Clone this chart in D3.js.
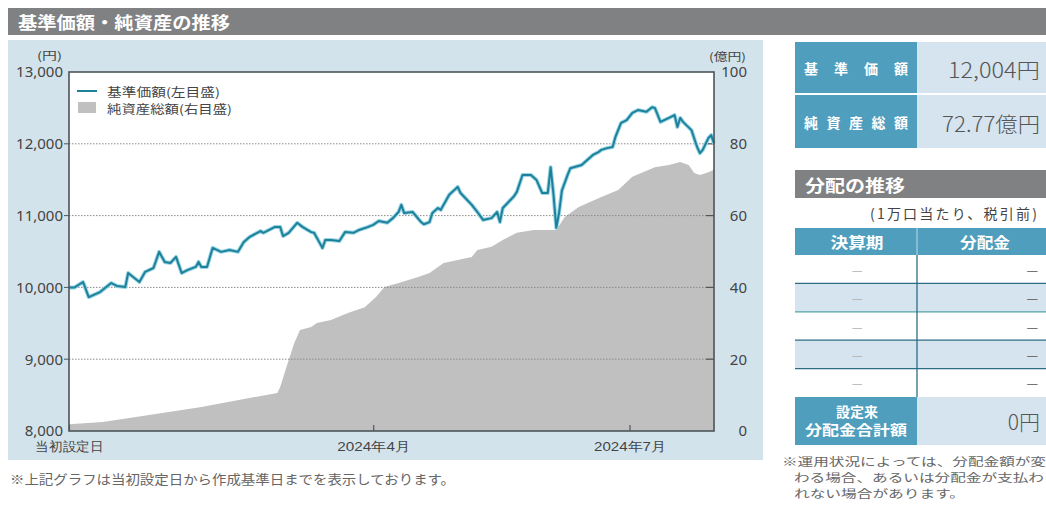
<!DOCTYPE html>
<html><head><meta charset="utf-8">
<script src="https://cdn.jsdelivr.net/npm/d3@7"></script>
<style>
body{margin:0;background:#fff;overflow:hidden}
svg{display:block;font-family:"Noto Sans CJK JP","Noto Sans",sans-serif}
</style></head><body>
<svg id="c" width="1046" height="508"></svg>
<script>
// ---- data ----
const navDates = ["2023-12-15","2023-12-17","2023-12-20","2023-12-22","2023-12-26","2023-12-30","2024-01-01","2024-01-04","2024-01-05","2024-01-09","2024-01-11","2024-01-14","2024-01-16","2024-01-18","2024-01-20","2024-01-22","2024-01-24","2024-01-26","2024-01-29","2024-01-30","2024-01-31","2024-02-02","2024-02-04","2024-02-07","2024-02-10","2024-02-13","2024-02-15","2024-02-17","2024-02-21","2024-02-22","2024-02-26","2024-02-28","2024-02-29","2024-03-02","2024-03-05","2024-03-07","2024-03-10","2024-03-11","2024-03-13","2024-03-14","2024-03-15","2024-03-17","2024-03-20","2024-03-22","2024-03-25","2024-03-27","2024-03-30","2024-04-01","2024-04-03","2024-04-06","2024-04-08","2024-04-10","2024-04-11","2024-04-12","2024-04-15","2024-04-18","2024-04-19","2024-04-21","2024-04-22","2024-04-24","2024-04-25","2024-04-28","2024-05-01","2024-05-02","2024-05-06","2024-05-08","2024-05-10","2024-05-13","2024-05-15","2024-05-16","2024-05-17","2024-05-21","2024-05-22","2024-05-24","2024-05-27","2024-05-29","2024-05-31","2024-06-02","2024-06-03","2024-06-04","2024-06-05","2024-06-06","2024-06-07","2024-06-09","2024-06-10","2024-06-14","2024-06-16","2024-06-18","2024-06-20","2024-06-21","2024-06-23","2024-06-25","2024-06-26","2024-06-28","2024-06-30","2024-07-02","2024-07-04","2024-07-07","2024-07-09","2024-07-10","2024-07-12","2024-07-15","2024-07-17","2024-07-18","2024-07-19","2024-07-20","2024-07-23","2024-07-25","2024-07-26","2024-07-27","2024-07-29","2024-07-30","2024-07-31"];
const navValues = [10000,10000,10075,9865,9935,10060,10020,10005,10200,10075,10215,10270,10495,10355,10340,10425,10200,10240,10285,10355,10285,10285,10550,10495,10520,10495,10630,10700,10785,10760,10840,10840,10715,10760,10900,10840,10770,10760,10620,10550,10660,10660,10645,10770,10760,10800,10840,10870,10925,10900,10965,11050,11150,11035,11050,10910,10880,10910,11035,11105,11080,11290,11400,11315,11150,11050,10940,10965,11050,10910,11105,11270,11330,11565,11565,11495,11315,11315,11675,11300,10830,11040,11350,11565,11660,11705,11775,11845,11885,11915,11940,11955,12095,12290,12330,12430,12470,12445,12510,12500,12305,12360,12400,12235,12360,12305,12190,11955,11870,11915,12080,12120,12004];

const assetDates = ["2023-12-15","2023-12-27","2024-01-13","2024-01-31","2024-02-17","2024-02-27","2024-02-28","2024-03-02","2024-03-04","2024-03-06","2024-03-10","2024-03-12","2024-03-17","2024-03-23","2024-03-29","2024-04-02","2024-04-05","2024-04-10","2024-04-17","2024-04-21","2024-04-26","2024-05-01","2024-05-06","2024-05-08","2024-05-13","2024-05-17","2024-05-22","2024-05-28","2024-06-05","2024-06-08","2024-06-13","2024-06-21","2024-06-27","2024-07-02","2024-07-10","2024-07-15","2024-07-19","2024-07-22","2024-07-24","2024-07-26","2024-07-29","2024-07-31"];
const assetValues = [1.9,2.5,4.5,6.7,9.2,10.6,12.3,19.8,24.5,28.1,29.0,30.1,30.9,32.9,34.5,37.3,40.1,41.2,42.9,44.0,46.8,47.6,48.5,50.4,51.3,53.2,55.2,56.0,56.0,59.6,62.4,65.2,67.1,70.8,73.5,74.1,74.9,74.1,71.9,71.3,72.1,72.77];

const leftTicks = [8000,9000,10000,11000,12000,13000];
const rightTicks = [0,20,40,60,80,100];
const gridTicks = [9000,10000,11000,12000];
const xTickDates = ["2023-12-15","2024-04-01","2024-07-01"];
const xTickLabels = ["当初設定日","2024年4月","2024年7月"];
const seriesNames = ["基準価額(左目盛)","純資産総額(右目盛)"];
const summaryLabels = ["基準価額","純資産総額"];
const summaryValues = ["12,004円","72.77億円"];
const distPeriods = ["—","—","—","—","—"];
const distAmounts = ["—","—","—","—","—"];
const distTotal = "0円";

// ---- drawing ----
const parse = d3.timeParse("%Y-%m-%d");
const svg = d3.select("#c");
const C = {bar:"#808183", panel:"#d3e3ec", teal:"#4f9ebd", light:"#d5e4ee", line:"#1f8099", halo:"#97d5e6", area:"#c0c0c0", text:"#444"};

const L = 69, R = 714, T = 72, B = 431;
const x = d3.scaleTime().domain([parse("2023-12-15"), parse("2024-07-31")]).range([L, R]);
const yL = d3.scaleLinear().domain([8000, 13000]).range([B, T]);
const yR = d3.scaleLinear().domain([0, 100]).range([B, T]);

function txt(g, s, x0, y0, o = {}) {
  const t = g.append("text").attr("x", x0).attr("y", y0).text(s)
    .attr("font-size", o.size || 13).attr("fill", o.fill || C.text)
    .attr("text-anchor", o.anchor || "start").attr("dominant-baseline", "central");
  if (o.weight) t.attr("font-weight", o.weight);
  if (o.len) t.attr("textLength", o.len).attr("lengthAdjust", o.adj || "spacingAndGlyphs");
  if (o.ls) t.attr("letter-spacing", o.ls);
  return t;
}

// title bar
svg.append("rect").attr("x", 8).attr("y", 8).attr("width", 1038).attr("height", 27).attr("fill", C.bar);
txt(svg, "基準価額・純資産の推移", 18, 21.5, {size: 17, fill: "#fff", weight: 700, len: 212});

// chart panel
svg.append("rect").attr("x", 8).attr("y", 40).attr("width", 755).attr("height", 420).attr("fill", C.panel);
svg.append("rect").attr("x", L).attr("y", T).attr("width", R - L).attr("height", B - T).attr("fill", "#fff");

// area
const area = d3.area().x((d, i) => x(parse(assetDates[i]))).y0(B).y1((d) => yR(d)).curve(d3.curveLinear);
svg.append("path").datum(assetValues).attr("d", area).attr("fill", C.area);

// grid lines
const grid = svg.append("g");
gridTicks.forEach(v => {
  grid.append("line").attr("x1", L).attr("x2", R).attr("y1", yL(v)).attr("y2", yL(v))
    .attr("stroke", "#8a8a8a").attr("stroke-width", 1).attr("stroke-dasharray", "1.5,1.5");
  grid.append("line").attr("x1", L - 5).attr("x2", L).attr("y1", yL(v)).attr("y2", yL(v)).attr("stroke", "#555");
  grid.append("line").attr("x1", R - 8).attr("x2", R).attr("y1", yL(v)).attr("y2", yL(v)).attr("stroke", "#555").attr("stroke-width", 1.2);
});

// line
const line = d3.line().x((d, i) => x(parse(navDates[i]))).y(d => yL(d));
svg.append("path").datum(navValues).attr("d", line).attr("fill", "none").attr("stroke", C.halo).attr("stroke-width", 4).attr("stroke-linejoin", "round");
svg.append("path").datum(navValues).attr("d", line).attr("fill", "none").attr("stroke", C.line).attr("stroke-width", 2).attr("stroke-linejoin", "round");

// plot frame
svg.append("rect").attr("x", L).attr("y", T).attr("width", R - L).attr("height", B - T)
  .attr("fill", "none").attr("stroke", "#4d5558").attr("stroke-width", 1.6);

// axes
const axL = svg.append("g").attr("transform", `translate(${L},0)`)
  .call(d3.axisLeft(yL).tickValues(leftTicks).tickFormat(d3.format(",")).tickSize(0).tickPadding(6));
axL.select(".domain").remove();
axL.selectAll("text").attr("font-size", 15).attr("fill", C.text).attr("font-family", "'Noto Sans','Noto Sans CJK JP',sans-serif");

const axR = svg.append("g").attr("transform", `translate(${R},0)`)
  .call(d3.axisRight(yR).tickValues(rightTicks).tickSize(0).tickPadding(33));
axR.select(".domain").remove();
axR.selectAll("text").attr("text-anchor", "end").attr("font-size", 15).attr("fill", C.text).attr("font-family", "'Noto Sans','Noto Sans CJK JP',sans-serif");

const xLens = [68, 73, 72];
const axB = svg.append("g").attr("transform", `translate(0,${B})`)
  .call(d3.axisBottom(x).tickValues(xTickDates.map(parse)).tickFormat((d, i) => xTickLabels[i]).tickSize(-6).tickPadding(11));
axB.select(".domain").remove();
axB.selectAll(".tick line").attr("stroke", "#555").attr("stroke-width", 1.2);
axB.selectAll("text").attr("font-size", 13).attr("fill", C.text)
  .attr("textLength", (d, i) => xLens[i]).attr("lengthAdjust", "spacingAndGlyphs");

txt(svg, "(円)", 62, 55, {size: 11, anchor: "end", len: 25});
txt(svg, "(億円)", 746, 56, {size: 11, anchor: "end", len: 37});

// legend
svg.append("line").attr("x1", 77).attr("x2", 97).attr("y1", 91).attr("y2", 91).attr("stroke", C.line).attr("stroke-width", 2);
txt(svg, seriesNames[0], 107, 91, {size: 12, len: 113});
svg.append("rect").attr("x", 78).attr("y", 102).attr("width", 18).attr("height", 11).attr("fill", C.area);
txt(svg, seriesNames[1], 107, 108, {size: 12, len: 125});

// footnote
txt(svg, "※上記グラフは当初設定日から作成基準日までを表示しております。", 10, 478, {size: 13, fill: "#666", len: 445});

// ---- right side ----
const rs = svg.append("g");
const rowsY = [[42, 93], [95, 148]];
summaryLabels.forEach((s, i) => {
  const [a, b] = rowsY[i];
  rs.append("rect").attr("x", 795).attr("y", a).attr("width", 122).attr("height", b - a).attr("fill", C.teal);
  rs.append("rect").attr("x", 917).attr("y", a).attr("width", 129).attr("height", b - a).attr("fill", C.light);
  txt(rs, s, 856, (a + b) / 2, {size: 14, fill: "#fff", weight: 700, anchor: "middle", len: 104, adj: "spacing"});
  txt(rs, summaryValues[i], 1040, (a + b) / 2 + 1, {size: 21, fill: "#555", weight: 300, anchor: "end", len: i === 0 ? 92 : 98});
});

rs.append("rect").attr("x", 795).attr("y", 170).attr("width", 251).attr("height", 28).attr("fill", C.bar);
txt(rs, "分配の推移", 805, 184.5, {size: 17, fill: "#fff", weight: 700, len: 100});
txt(rs, "(1万口当たり、税引前)", 870, 213, {size: 14, fill: "#444", ls: 2.2});

rs.append("rect").attr("x", 795).attr("y", 228).attr("width", 251).attr("height", 27).attr("fill", C.teal);
rs.append("line").attr("x1", 917).attr("x2", 917).attr("y1", 228).attr("y2", 255).attr("stroke", "#b9dbe8").attr("stroke-width", 1);
txt(rs, "決算期", 857, 241.5, {size: 15, fill: "#fff", weight: 700, anchor: "middle", len: 53});
txt(rs, "分配金", 985, 241.5, {size: 15, fill: "#fff", weight: 700, anchor: "middle", len: 50});

const rowH = 28.4, row0 = 255;
distPeriods.forEach((p, i) => {
  const y0 = row0 + i * rowH;
  rs.append("rect").attr("x", 795).attr("y", y0).attr("width", 251).attr("height", rowH).attr("fill", i % 2 ? C.light : "#fff");
  if (i > 0) rs.append("line").attr("x1", 795).attr("x2", 1046).attr("y1", y0).attr("y2", y0).attr("stroke", i === 2 ? "#4fa3a6" : "#2d6c86").attr("stroke-width", 1.3);
  txt(rs, p, 857, y0 + rowH / 2, {size: 12, fill: "#b0b0b0", anchor: "middle"});
  txt(rs, distAmounts[i], 1038, y0 + rowH / 2, {size: 13, fill: "#555", anchor: "end"});
});
rs.append("line").attr("x1", 917).attr("x2", 917).attr("y1", 255).attr("y2", 397).attr("stroke", "#2d6c86").attr("stroke-width", 1.3);

rs.append("rect").attr("x", 795).attr("y", 397).attr("width", 122).attr("height", 48).attr("fill", C.teal);
rs.append("rect").attr("x", 917).attr("y", 397).attr("width", 129).attr("height", 48).attr("fill", C.light);
txt(rs, "設定来", 857, 411, {size: 14, fill: "#fff", weight: 700, anchor: "middle"});
txt(rs, "分配金合計額", 856, 429, {size: 14, fill: "#fff", weight: 700, anchor: "middle", len: 102});
txt(rs, distTotal, 1040, 421, {size: 21, fill: "#555", weight: 300, anchor: "end"});

txt(rs, "※運用状況によっては、分配金額が変", 782, 461, {size: 11, fill: "#666", len: 264});
txt(rs, "わる場合、あるいは分配金が支払わ", 794, 477, {size: 11, fill: "#666", len: 250});
txt(rs, "れない場合があります。", 794, 493, {size: 11, fill: "#666", len: 171});
</script>
</body></html>
